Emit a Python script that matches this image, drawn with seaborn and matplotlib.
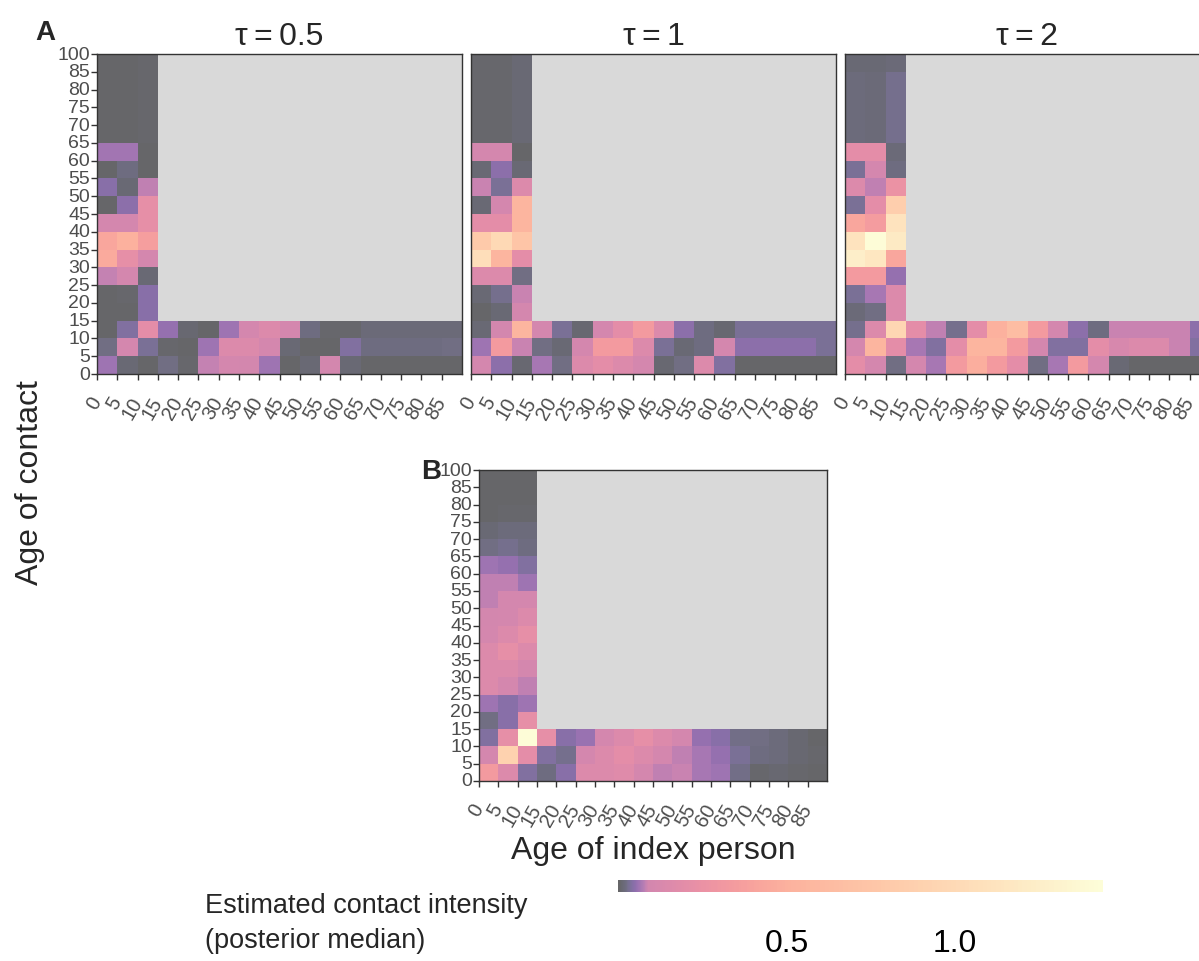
import numpy as np
import matplotlib
matplotlib.use("Agg")
import matplotlib.pyplot as plt
from matplotlib.colors import ListedColormap
import seaborn as sns

# ---------------- data ----------------
index_age_labels = [str(a) for a in range(0, 90, 5)]              # 0..85 (18 bins)
contact_age_labels = [str(a) for a in range(0, 90, 5)] + ["100"]  # bin edges 0..85,100

# contact ages 15-20 ... 85-100 (ascending) for index ages 0, 5, 10
tau05_children = [
    [0.003, 0.003, 0.045],
    [0.003, 0.008, 0.045],
    [0.083, 0.100, 0.012],
    [0.450, 0.220, 0.100],
    [0.420, 0.500, 0.360],
    [0.100, 0.100, 0.220],
    [0.003, 0.050, 0.220],
    [0.045, 0.012, 0.080],
    [0.003, 0.020, 0.003],
    [0.064, 0.064, 0.003],
    [0.003, 0.004, 0.008],
    [0.003, 0.004, 0.008],
    [0.003, 0.004, 0.008],
    [0.003, 0.004, 0.008],
    [0.003, 0.004, 0.008],
]
# contact ages 0-5, 5-10, 10-15 for index ages 0..85
tau05_young = [
    [0.060, 0.012, 0.003, 0.025, 0.008, 0.083, 0.100, 0.090, 0.060, 0.003, 0.012, 0.090, 0.012, 0.003, 0.003, 0.003, 0.003, 0.003],
    [0.025, 0.100, 0.035, 0.008, 0.005, 0.060, 0.150, 0.150, 0.100, 0.012, 0.005, 0.005, 0.040, 0.020, 0.020, 0.020, 0.020, 0.025],
    [0.005, 0.040, 0.200, 0.055, 0.010, 0.004, 0.060, 0.100, 0.150, 0.100, 0.020, 0.008, 0.006, 0.015, 0.015, 0.015, 0.015, 0.015],
]

tau1_children = [
    [0.005, 0.012, 0.100],
    [0.012, 0.030, 0.085],
    [0.150, 0.150, 0.025],
    [1.050, 0.550, 0.200],
    [0.800, 1.000, 0.750],
    [0.200, 0.200, 0.550],
    [0.012, 0.100, 0.550],
    [0.085, 0.035, 0.150],
    [0.012, 0.050, 0.012],
    [0.100, 0.100, 0.005],
    [0.006, 0.006, 0.012],
    [0.006, 0.006, 0.012],
    [0.006, 0.006, 0.012],
    [0.006, 0.006, 0.012],
    [0.006, 0.006, 0.012],
]
tau1_young = [
    [0.100, 0.050, 0.010, 0.065, 0.025, 0.150, 0.200, 0.150, 0.100, 0.010, 0.025, 0.150, 0.040, 0.005, 0.004, 0.004, 0.004, 0.004],
    [0.060, 0.330, 0.085, 0.025, 0.012, 0.100, 0.330, 0.330, 0.150, 0.035, 0.012, 0.020, 0.100, 0.050, 0.050, 0.050, 0.050, 0.035],
    [0.012, 0.090, 0.550, 0.100, 0.035, 0.010, 0.100, 0.200, 0.330, 0.150, 0.050, 0.020, 0.010, 0.035, 0.035, 0.035, 0.035, 0.035],
]

tau2_children = [
    [0.015, 0.025, 0.150],
    [0.035, 0.065, 0.150],
    [0.330, 0.330, 0.055],
    [1.250, 1.150, 0.420],
    [1.120, 1.420, 1.200],
    [0.420, 0.350, 1.120],
    [0.035, 0.200, 0.850],
    [0.150, 0.080, 0.250],
    [0.035, 0.100, 0.020],
    [0.200, 0.200, 0.015],
    [0.018, 0.015, 0.030],
    [0.018, 0.015, 0.030],
    [0.018, 0.015, 0.030],
    [0.018, 0.015, 0.030],
    [0.012, 0.012, 0.015],
]
tau2_young = [
    [0.200, 0.100, 0.025, 0.100, 0.065, 0.330, 0.480, 0.330, 0.200, 0.025, 0.065, 0.330, 0.100, 0.012, 0.005, 0.005, 0.005, 0.004],
    [0.100, 0.550, 0.200, 0.065, 0.040, 0.200, 0.550, 0.550, 0.330, 0.100, 0.040, 0.040, 0.200, 0.120, 0.150, 0.150, 0.085, 0.040],
    [0.030, 0.150, 0.950, 0.200, 0.080, 0.030, 0.200, 0.500, 0.650, 0.330, 0.100, 0.050, 0.020, 0.085, 0.085, 0.085, 0.085, 0.050],
]

panelB_children = [
    [0.025, 0.045, 0.220],
    [0.060, 0.045, 0.060],
    [0.150, 0.100, 0.080],
    [0.150, 0.150, 0.100],
    [0.150, 0.220, 0.150],
    [0.100, 0.150, 0.220],
    [0.090, 0.100, 0.150],
    [0.080, 0.100, 0.100],
    [0.080, 0.080, 0.060],
    [0.060, 0.055, 0.040],
    [0.025, 0.030, 0.022],
    [0.012, 0.018, 0.018],
    [0.004, 0.008, 0.006],
    [0.004, 0.005, 0.005],
    [0.004, 0.005, 0.005],
]
panelB_young = [
    [0.330, 0.150, 0.040, 0.022, 0.045, 0.150, 0.150, 0.170, 0.100, 0.080, 0.085, 0.065, 0.060, 0.028, 0.008, 0.010, 0.006, 0.005],
    [0.100, 0.900, 0.200, 0.040, 0.030, 0.100, 0.150, 0.200, 0.150, 0.100, 0.080, 0.065, 0.055, 0.035, 0.022, 0.018, 0.010, 0.006],
    [0.040, 0.220, 1.420, 0.220, 0.045, 0.058, 0.100, 0.150, 0.220, 0.150, 0.100, 0.055, 0.045, 0.028, 0.025, 0.018, 0.010, 0.005],
]

panel_titles = ["\u03c4\u2009=\u20090.5", "\u03c4\u2009=\u20091", "\u03c4\u2009=\u20092"]
colorbar_ticks = [0.5, 1.0]
value_max = 1.44

# ---------------- style ----------------
sns.set_theme(style="ticks")
plt.rcParams["font.family"] = ["Liberation Sans", "DejaVu Sans"]
plt.rcParams["axes.edgecolor"] = "#333333"
plt.rcParams["xtick.color"] = "#333333"
plt.rcParams["ytick.color"] = "#333333"

# colour scale: magma, nonlinear spacing of colour stops along the value range
v_knots = [0, 0.02, 0.05, 0.09, 0.25, 0.5, 1.0, value_max]
p_knots = [0, 0.08, 0.22, 0.50, 0.60, 0.73, 0.87, 1.0]
vals = np.linspace(0, value_max, 512)
cmap = ListedColormap(plt.cm.magma(np.interp(vals, v_knots, p_knots)))
grey_cmap = ListedColormap(["#d9d9d9"])


def build_matrix(young, children):
    m = np.full((18, 18), np.nan)
    m[0:3, :] = np.array(young)
    m[3:, 0:3] = np.array(children)
    return m[::-1]  # top row = oldest contacts


W, H = 1199, 962
fig = plt.figure(figsize=(W / 100, H / 100), dpi=100)


def draw_panel(rect, young, children, title=None, ylabels=True):
    ax = fig.add_axes(rect)
    ax.set_facecolor("white")
    mat = build_matrix(young, children)
    na = np.isnan(mat)
    sns.heatmap(np.ones_like(mat), mask=~na, cmap=grey_cmap, cbar=False, ax=ax,
                vmin=0, vmax=1)
    sns.heatmap(mat, cmap=cmap, vmin=0, vmax=value_max, alpha=0.6, cbar=False, ax=ax,
                linewidths=0)
    ax.set_xticks(np.arange(18))
    ax.set_xticklabels(index_age_labels, rotation=60, ha="right", va="center",
                       rotation_mode="anchor", fontsize=14.5, color="#4d4d4d")
    ax.tick_params(axis="x", length=4, width=1, pad=13)
    if ylabels:
        ax.set_yticks(np.arange(19))
        ax.set_yticklabels(contact_age_labels[::-1], rotation=0, fontsize=14,
                           color="#4d4d4d", va="center")
        ax.tick_params(axis="y", length=4, width=1, pad=1)
    else:
        ax.set_yticks([])
    for s in ax.spines.values():
        s.set_visible(True)
        s.set_linewidth(1.0)
        s.set_color("#333333")
    ax.set_xlabel("")
    ax.set_ylabel("")
    if title:
        ax.set_title(title, fontsize=23, pad=7)
    return ax


top_b, top_h = 1 - 375 / H, 320 / H
pw = 365 / W
draw_panel([97 / W, top_b, pw, top_h], tau05_young, tau05_children, panel_titles[0])
draw_panel([471 / W, top_b, pw, top_h], tau1_young, tau1_children, panel_titles[1], ylabels=False)
draw_panel([845 / W, top_b, pw, top_h], tau2_young, tau2_children, panel_titles[2], ylabels=False)
axB = draw_panel([479 / W, 1 - 782 / H, 348 / W, 311 / H], panelB_young, panelB_children)

fig.text(35 / W, 1 - 40 / H, "A", fontsize=20, fontweight="bold", va="baseline")
fig.text(421 / W, 1 - 479 / H, "B", fontsize=20, fontweight="bold", va="baseline")
fig.text(30 / W, 1 - 483 / H, "Age of contact", rotation=90, fontsize=23,
         ha="center", va="center")
fig.text(653 / W, 1 - 851 / H, "Age of index person", fontsize=23, ha="center", va="center")

# colour bar
cax = fig.add_axes([618 / W, 1 - 893 / H, 485 / W, 12 / H])
mesh = axB.collections[-1]
cb = fig.colorbar(mesh, cax=cax, orientation="horizontal")
cb.outline.set_visible(False)
cb.set_ticks(colorbar_ticks)
cb.set_ticklabels(["0.5", "1.0"])
cax.xaxis.set_ticks_position("both")
cax.tick_params(axis="x", direction="in", length=3, width=1, color="white",
                labelsize=23, labelcolor="black", pad=26, labeltop=False)
fig.text(205 / W, 1 - 893 / H, "Estimated contact intensity\n(posterior median)",
         fontsize=19.5, ha="left", va="top", linespacing=1.45)

fig.savefig("out.png", dpi=100)
